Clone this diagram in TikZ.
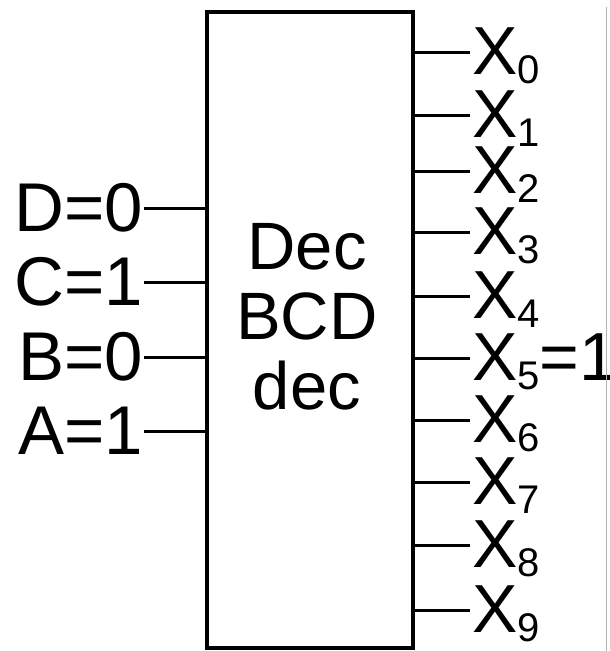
\documentclass[tikz,border=0pt]{standalone}
\usepackage{fontspec}
\setmainfont{Liberation Sans}
\usetikzlibrary{positioning}

% subscript for the output names
\newcommand{\outsub}[1]{\raisebox{-9pt}{\fontsize{40}{40}\selectfont #1}}

\begin{document}
\begin{tikzpicture}[
  x=1pt, y=-1pt,
  block/.style={draw, line width=4pt, minimum width=206pt, minimum height=636pt, inner sep=0pt},
  title/.style={align=center, inner sep=0pt, font=\fontsize{67}{70}\selectfont},
  inlbl/.style={anchor=east, inner sep=1pt, font=\fontsize{69}{70}\selectfont},
  outlbl/.style={anchor=base west, inner sep=0pt, font=\fontsize{68}{70}\selectfont},
  wire/.style={line width=3pt}
]
  \useasboundingbox (0,0) rectangle (610,651);

  % decoder block
  \node[block] (dec) at (310,330) {};
  \node[title] (name) at (307,317) {Dec\\BCD\\dec};

  % inputs
  \node[inlbl] (d) at (144,208) {D=0};
  \node[inlbl] (c) at (144,282) {C=1};
  \node[inlbl] (b) at (144,357) {B=0};
  \node[inlbl] (a) at (144,431) {A=1};

  \draw[wire] (d.east) -- (d -| dec.west);
  \draw[wire] (c.east) -- (c -| dec.west);
  \draw[wire] (b.east) -- (b -| dec.west);
  \draw[wire] (a.east) -- (a -| dec.west);

  % outputs
  \coordinate (o0) at (470,52);
  \coordinate (o1) at (470,115);
  \coordinate (o2) at (470,171);
  \coordinate (o3) at (470,232);
  \coordinate (o4) at (470,296);
  \coordinate (o5) at (470,358);
  \coordinate (o6) at (470,420);
  \coordinate (o7) at (470,482);
  \coordinate (o8) at (470,545);
  \coordinate (o9) at (470,610);

  \node[outlbl] (x0) at ([xshift=2pt, yshift=-22pt]o0) {X\outsub{0}};
  \node[outlbl] (x1) at ([xshift=2pt, yshift=-22pt]o1) {X\outsub{1}};
  \node[outlbl] (x2) at ([xshift=2pt, yshift=-22pt]o2) {X\outsub{2}};
  \node[outlbl] (x3) at ([xshift=2pt, yshift=-22pt]o3) {X\outsub{3}};
  \node[outlbl] (x4) at ([xshift=2pt, yshift=-22pt]o4) {X\outsub{4}};
  \node[outlbl] (x5) at ([xshift=2pt, yshift=-22pt]o5) {X\outsub{5}=1};
  \node[outlbl] (x6) at ([xshift=2pt, yshift=-22pt]o6) {X\outsub{6}};
  \node[outlbl] (x7) at ([xshift=2pt, yshift=-22pt]o7) {X\outsub{7}};
  \node[outlbl] (x8) at ([xshift=2pt, yshift=-22pt]o8) {X\outsub{8}};
  \node[outlbl] (x9) at ([xshift=2pt, yshift=-22pt]o9) {X\outsub{9}};

  \draw[wire] (dec.east |- o0) -- (o0);
  \draw[wire] (dec.east |- o1) -- (o1);
  \draw[wire] (dec.east |- o2) -- (o2);
  \draw[wire] (dec.east |- o3) -- (o3);
  \draw[wire] (dec.east |- o4) -- (o4);
  \draw[wire] (dec.east |- o5) -- (o5);
  \draw[wire] (dec.east |- o6) -- (o6);
  \draw[wire] (dec.east |- o7) -- (o7);
  \draw[wire] (dec.east |- o8) -- (o8);
  \draw[wire] (dec.east |- o9) -- (o9);

  % frame line at the right edge
  \draw[gray!60, line width=1pt] (606.5,7) -- (606.5,651);
\end{tikzpicture}
\end{document}
